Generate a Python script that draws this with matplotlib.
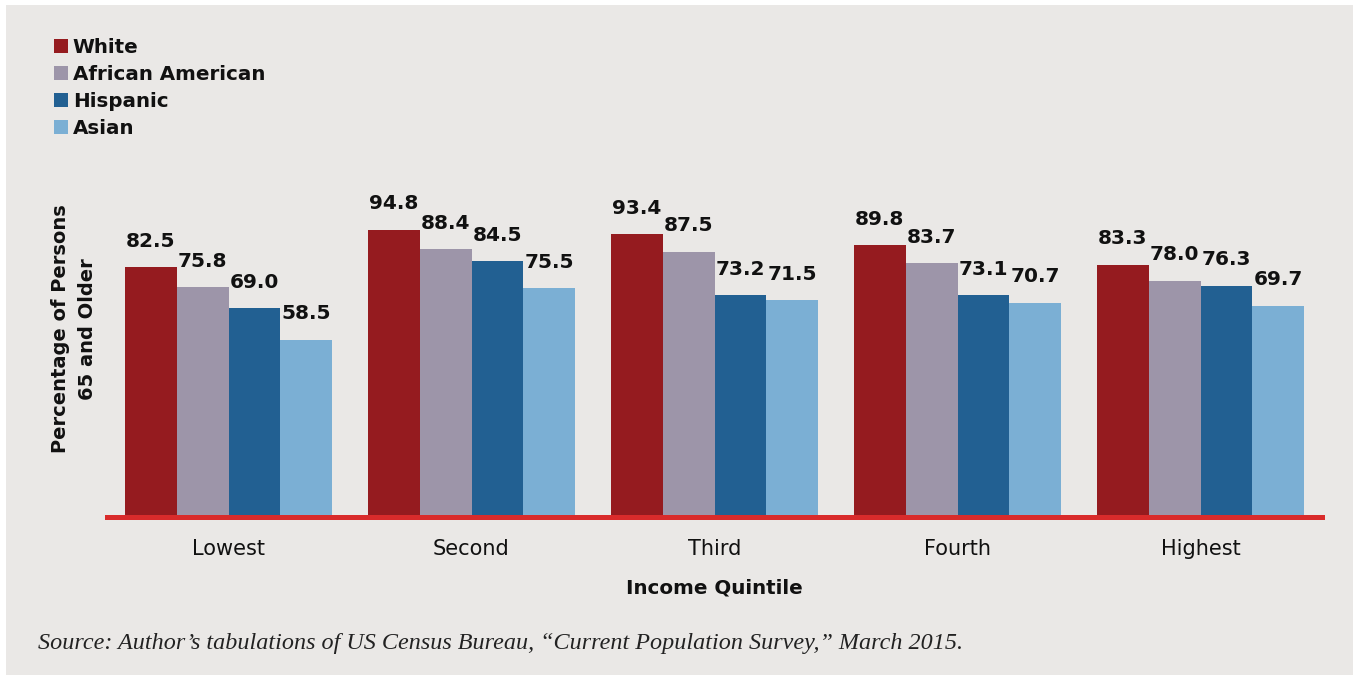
import numpy as np
import matplotlib
matplotlib.use("Agg")
import matplotlib.pyplot as plt
from matplotlib.patches import Rectangle, Patch

quintiles = ["Lowest", "Second", "Third", "Fourth", "Highest"]
groupes = ["White", "African American", "Hispanic", "Asian"]
white = [82.5, 94.8, 93.4, 89.8, 83.3]
african_american = [75.8, 88.4, 87.5, 83.7, 78.0]
hispanic = [69.0, 84.5, 73.2, 73.1, 76.3]
asian = [58.5, 75.5, 71.5, 70.7, 69.7]
couleurs = ["#951b1f", "#9d95a9", "#226092", "#7bafd4"]

plt.rcParams['font.family'] = ['DejaVu Sans']

W, H = 1353, 675
fig = plt.figure(figsize=(W / 100, H / 100), dpi=100, facecolor="white")
fig.patches.append(Rectangle((6 / W, 0), 1 - 6 / W, 1 - 5 / H,
                             transform=fig.transFigure, facecolor="#eae8e6",
                             edgecolor="none", zorder=-10))

# axes en pixels : gauche 107, droite 1322, base 517, 3.03 px par point
px_unite = 250 / 82.5
ymax = 120
haut = ymax * px_unite
ax = fig.add_axes([107 / W, (H - 517) / H, (1322 - 107) / W, haut / H])
ax.set_facecolor("none")

x = np.arange(len(quintiles))
largeur = 0.213
series = [white, african_american, hispanic, asian]
for i, (vals, c) in enumerate(zip(series, couleurs)):
    pos = x + (i - 1.5) * largeur
    ax.bar(pos, vals, width=largeur, color=c, label=groupes[i], zorder=2)
    for p, v in zip(pos, vals):
        ax.text(p, v + 5.4, "%.1f" % v, ha="center", va="bottom",
                fontsize=14.5, fontweight="bold", color="#111111")

ax.axhline(0, color="#d92b2b", linewidth=3.6, zorder=3, clip_on=False)
ax.set_xlim(-0.5, 4.5)
ax.set_ylim(0, ymax)

for s in ax.spines.values():
    s.set_visible(False)
ax.set_yticks([])
ax.set_xticks(x)
ax.set_xticklabels(quintiles, fontsize=15, color="#111111")
ax.tick_params(axis="x", length=0, pad=16)
ax.set_xlabel("Income Quintile", fontsize=14.3, fontweight="bold",
              color="#111111", labelpad=14)

fig.text(74 / W, 1 - 329 / H, "Percentage of Persons\n65 and Older",
         rotation=90, ha="center", va="center", fontsize=14,
         fontweight="bold", color="#111111", linespacing=1.55,
         multialignment="center")

poignees = [Patch(facecolor=c, edgecolor="none") for c in couleurs]
leg = fig.legend(poignees, groupes, loc="upper left",
                 bbox_to_anchor=(54 / W, 1 - 38 / H), frameon=False,
                 handlelength=0.7, handleheight=0.7, handletextpad=0.25,
                 labelspacing=0.4, borderaxespad=0, borderpad=0,
                 prop={"size": 14.3, "weight": "bold"})
for t in leg.get_texts():
    t.set_color("#111111")

fig.text(38 / W, 1 - 643 / H,
         "Source: Author\u2019s tabulations of US Census Bureau, \u201cCurrent Population Survey,\u201d March 2015.",
         ha="left", va="center", fontsize=17.4, style="italic",
         family="Liberation Serif", color="#222222")

fig.savefig("out.png", dpi=100, facecolor=fig.get_facecolor())
